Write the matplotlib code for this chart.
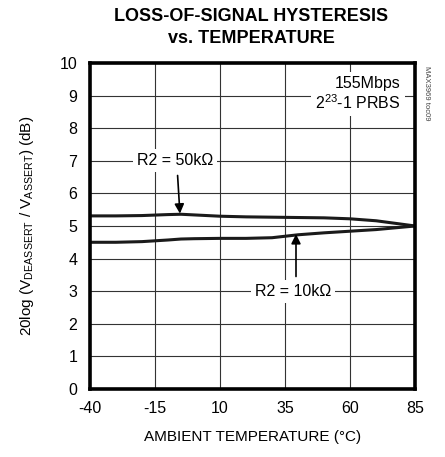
import matplotlib
matplotlib.use("Agg")
import matplotlib.pyplot as plt

# ---------------------------------------------------------------------------
# Data
# ---------------------------------------------------------------------------
temp_c = [-40, -30, -20, -10, -5, 0, 10, 20, 30, 40, 50, 60, 70, 85]
hyst_50k = [5.31, 5.31, 5.32, 5.35, 5.36, 5.34, 5.30, 5.28, 5.27, 5.26, 5.25, 5.22, 5.16, 5.00]
hyst_10k = [4.50, 4.50, 4.52, 4.57, 4.60, 4.61, 4.62, 4.62, 4.64, 4.73, 4.79, 4.84, 4.89, 5.00]

x_ticks = [-40, -15, 10, 35, 60, 85]
y_ticks = list(range(0, 11))

FONT = ["Liberation Sans", "DejaVu Sans"]
plt.rcParams["font.family"] = FONT
plt.rcParams["axes.unicode_minus"] = False
plt.rcParams["mathtext.fontset"] = "custom"
plt.rcParams["mathtext.rm"] = "Liberation Sans"
plt.rcParams["mathtext.it"] = "Liberation Sans"

fig = plt.figure(figsize=(4.45, 4.57), dpi=100)
ax = fig.add_axes([0.202, 0.149, 0.731, 0.713])

ax.plot(temp_c, hyst_50k, color="#1a1a1a", lw=2.2, zorder=4,
        solid_capstyle="butt")
ax.plot(temp_c, hyst_10k, color="#1a1a1a", lw=2.2, zorder=4,
        solid_capstyle="butt")

ax.set_xlim(-40, 85)
ax.set_ylim(0, 10)
ax.set_xticks(x_ticks)
ax.set_yticks(y_ticks)
ax.tick_params(length=0, labelsize=11.5, pad=9)
ax.grid(True, color="#333333", lw=0.8, zorder=1)
ax.set_axisbelow(True)
for sp in ax.spines.values():
    sp.set_linewidth(2.6)
    sp.set_zorder(5)

ax.set_xlabel("AMBIENT TEMPERATURE (°C)", fontsize=11, labelpad=10)
ax.set_ylabel(r"20log (V$_{\mathregular{DEASSERT}}$ / V$_{\mathregular{ASSERT}}$) (dB)",
              fontsize=11, labelpad=17)

fig.text(0.565, 0.94, "LOSS-OF-SIGNAL HYSTERESIS\nvs. TEMPERATURE",
         ha="center", va="center", fontsize=13, fontweight="bold",
         linespacing=1.4)

box = dict(facecolor="white", edgecolor="none", pad=3)
ax.text(79.5, 9.05, "155Mbps\n2$^{23}$-1 PRBS", ha="right", va="center",
        multialignment="right", fontsize=11.5, bbox=box, zorder=3,
        linespacing=1.1)
ax.text(-7.3, 7.0, "R2 = 50kΩ", ha="center", va="center", fontsize=11.5,
        bbox=box, zorder=3)
ax.text(38.1, 3.0, "R2 = 10kΩ", ha="center", va="center", fontsize=11.5,
        bbox=box, zorder=3)

arrow = dict(arrowstyle="-|>", color="black", lw=1.2, mutation_scale=14,
             shrinkA=0, shrinkB=0)
ax.annotate("", xy=(-5.4, 5.38), xytext=(-6.3, 6.55), arrowprops=arrow, zorder=6)
ax.annotate("", xy=(39.2, 4.75), xytext=(39.2, 3.45), arrowprops=arrow, zorder=6)

fig.text(0.958, 0.795, "MAX3969 toc09", rotation=270, ha="center", va="center",
         fontsize=5.5, color="#444444")

fig.savefig("out.png", dpi=100)
